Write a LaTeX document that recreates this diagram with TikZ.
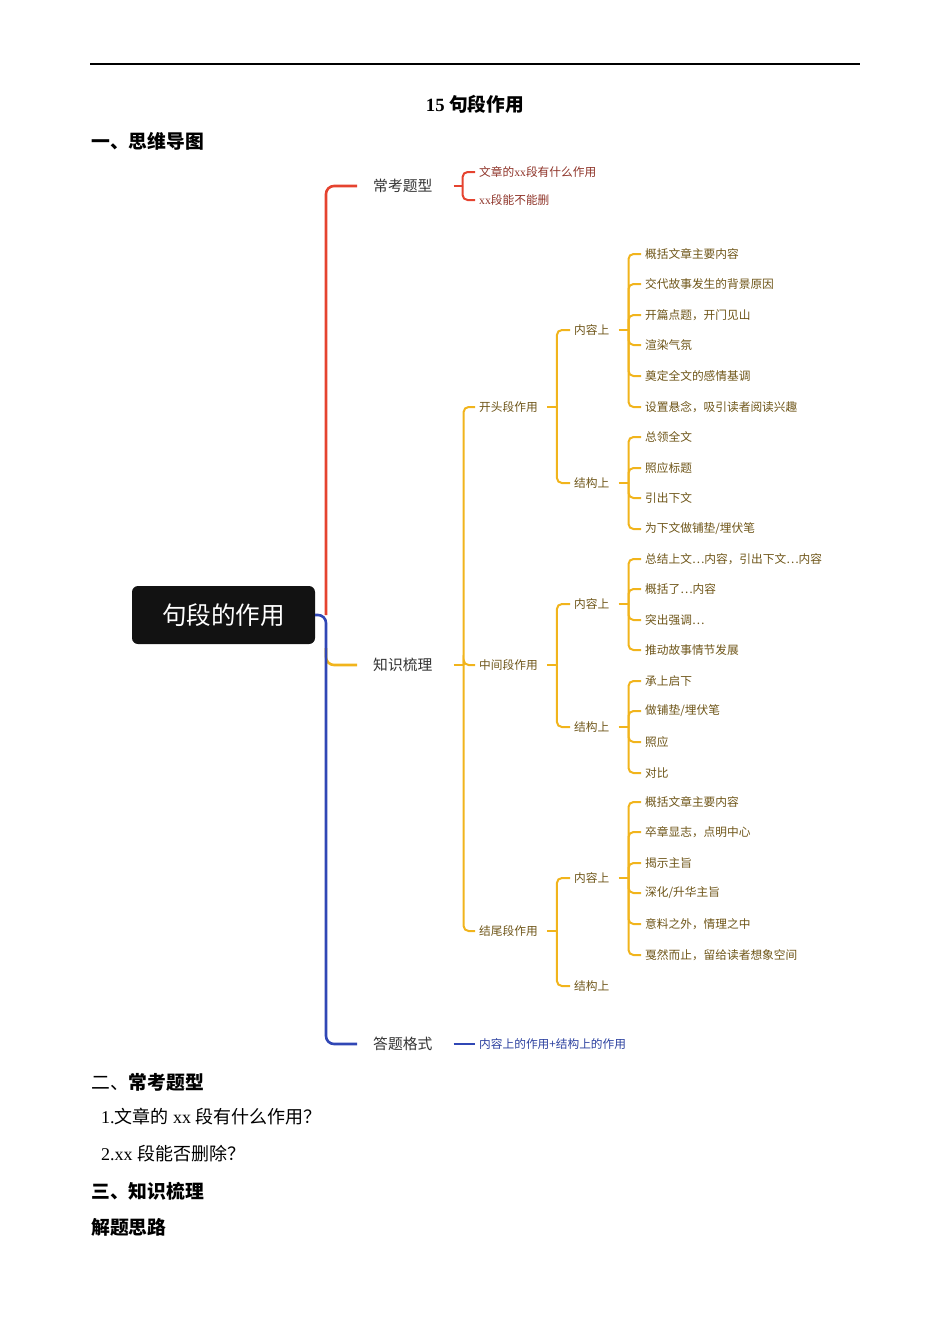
\documentclass[tikz,border=0pt]{standalone}
\usepackage{fontspec}
\setmainfont{Liberation Serif}
\newfontfamily\cjk{Noto Sans CJK SC}
\usepackage{xcolor}
\definecolor{mmred}{HTML}{E5432F}
\definecolor{mmyel}{HTML}{F1B41C}
\definecolor{mmblue}{HTML}{3047B5}
\definecolor{redtxt}{HTML}{8E3328}
\definecolor{yeltxt}{HTML}{6E5518}
\definecolor{bluetxt}{HTML}{2B409F}
\tikzstyle{root}=[rectangle, rounded corners=6pt, fill=black!93, text=white, minimum width=183pt, minimum height=58pt, font=\cjk\fontsize{24.6}{26}\selectfont]
\tikzstyle{topic}=[anchor=west, inner xsep=16pt, inner ysep=0pt, text=black!80, font=\cjk\fontsize{14.8}{16}\selectfont]
\tikzstyle{sub}=[anchor=west, inner xsep=4pt, inner ysep=0pt, font=\cjk\fontsize{11.7}{13}\selectfont]
\tikzstyle{head}=[anchor=west, inner sep=0pt, font=\cjk\bfseries\fontsize{18.8}{20}\selectfont]
\tikzstyle{body}=[anchor=west, inner sep=0pt, font=\fontsize{18}{20}\selectfont]
\tikzstyle{trunk}=[line width=2.6pt, rounded corners=8pt]
\tikzstyle{twig}=[line width=2pt, rounded corners=5pt]

\begin{document}
\begin{tikzpicture}[x=1pt, y=-1pt]
            \useasboundingbox (0,0) rectangle (950,1344);
            %\draw[step=50, gray, very thin] (0,0) grid (950,1344);
            \draw[line width=1.5pt] (90,64) -- (860,64);
            \node[font=\bfseries\fontsize{18.7}{20}\selectfont] (title) at (475,104) {15 {\cjk 句段作用}};
            \node[head] (h1) at (91,141) {一、思维导图};

            %%%%% root
            \node[root] (cen) at (223.5,615) {句段的作用};
            \coordinate (tr) at (326,615);
            \node[topic] (ckt) at (357,186) {常考题型};
            \node[topic] (zs) at (357,665) {知识梳理};
            \node[topic] (dt) at (357,1044) {答题格式};
            \draw[trunk, mmred] (tr) |- (ckt.west);
            \draw[trunk, mmyel] (tr |- 0,648) |- (zs.west);
            \draw[trunk, mmblue] (cen.east) -- (tr) |- (dt.west);

            %%%%% 常考题型
            \node[sub, text=redtxt] (c1) at (475,172) {文章的{\rmfamily xx}段有什么作用};
            \node[sub, text=redtxt] (c2) at (475,200) {{\rmfamily xx}段能不能删};
            \draw[twig, mmred] ([xshift=5]ckt.east) -- ++(9,0) coordinate (ckt-b);
            \draw[twig, mmred] (ckt-b) |- (c1.west);
            \draw[twig, mmred] (ckt-b) |- (c2.west);

            %%%%% 知识梳理
            \node[sub, text=yeltxt] (kt) at (475,407) {开头段作用};
            \node[sub, text=yeltxt] (zj) at (475,665) {中间段作用};
            \node[sub, text=yeltxt] (jw) at (475,931) {结尾段作用};
            \draw[twig, mmyel] ([xshift=5]zs.east) -- ++(10,0) coordinate (zs-b);
            \foreach \c in {kt,zj,jw} \draw[twig, mmyel] (zs-b) |- (\c.west);

            % 开头段
            \node[sub, text=yeltxt] (ktn) at (570,330) {内容上};
            \node[sub, text=yeltxt] (ktj) at (570,483) {结构上};
            \draw[twig, mmyel] ([xshift=5]kt.east) -- ++(10,0) coordinate (kt-b);
            \foreach \c in {ktn,ktj} \draw[twig, mmyel] (kt-b) |- (\c.west);
            \node[sub, text=yeltxt] (kn1) at (641,254) {概括文章主要内容};
            \node[sub, text=yeltxt] (kn2) at (641,284) {交代故事发生的背景原因};
            \node[sub, text=yeltxt] (kn3) at (641,315) {开篇点题，开门见山};
            \node[sub, text=yeltxt] (kn4) at (641,345) {渲染气氛};
            \node[sub, text=yeltxt] (kn5) at (641,376) {奠定全文的感情基调};
            \node[sub, text=yeltxt] (kn6) at (641,407) {设置悬念，吸引读者阅读兴趣};
            \draw[twig, mmyel] ([xshift=5]ktn.east) -- ++(10,0) coordinate (ktn-b);
            \foreach \c in {kn1,kn2,kn3,kn4,kn5,kn6} \draw[twig, mmyel] (ktn-b) |- (\c.west);
            \node[sub, text=yeltxt] (kj1) at (641,437) {总领全文};
            \node[sub, text=yeltxt] (kj2) at (641,468) {照应标题};
            \node[sub, text=yeltxt] (kj3) at (641,498) {引出下文};
            \node[sub, text=yeltxt] (kj4) at (641,529) {为下文做铺垫/埋伏笔};
            \draw[twig, mmyel] ([xshift=5]ktj.east) -- ++(10,0) coordinate (ktj-b);
            \foreach \c in {kj1,kj2,kj3,kj4} \draw[twig, mmyel] (ktj-b) |- (\c.west);

            % 中间段
            \node[sub, text=yeltxt] (zjn) at (570,604) {内容上};
            \node[sub, text=yeltxt] (zjj) at (570,727) {结构上};
            \draw[twig, mmyel] ([xshift=5]zj.east) -- ++(10,0) coordinate (zj-b);
            \foreach \c in {zjn,zjj} \draw[twig, mmyel] (zj-b) |- (\c.west);
            \node[sub, text=yeltxt] (zn1) at (641,559) {总结上文…内容，引出下文…内容};
            \node[sub, text=yeltxt] (zn2) at (641,589) {概括了…内容};
            \node[sub, text=yeltxt] (zn3) at (641,620) {突出强调…};
            \node[sub, text=yeltxt] (zn4) at (641,650) {推动故事情节发展};
            \draw[twig, mmyel] ([xshift=5]zjn.east) -- ++(10,0) coordinate (zjn-b);
            \foreach \c in {zn1,zn2,zn3,zn4} \draw[twig, mmyel] (zjn-b) |- (\c.west);
            \node[sub, text=yeltxt] (zg1) at (641,681) {承上启下};
            \node[sub, text=yeltxt] (zg2) at (641,711) {做铺垫/埋伏笔};
            \node[sub, text=yeltxt] (zg3) at (641,742) {照应};
            \node[sub, text=yeltxt] (zg4) at (641,773) {对比};
            \draw[twig, mmyel] ([xshift=5]zjj.east) -- ++(10,0) coordinate (zjj-b);
            \foreach \c in {zg1,zg2,zg3,zg4} \draw[twig, mmyel] (zjj-b) |- (\c.west);

            % 结尾段
            \node[sub, text=yeltxt] (jwn) at (570,878) {内容上};
            \node[sub, text=yeltxt] (jwj) at (570,986) {结构上};
            \draw[twig, mmyel] ([xshift=5]jw.east) -- ++(10,0) coordinate (jw-b);
            \foreach \c in {jwn,jwj} \draw[twig, mmyel] (jw-b) |- (\c.west);
            \node[sub, text=yeltxt] (jn1) at (641,802) {概括文章主要内容};
            \node[sub, text=yeltxt] (jn2) at (641,832) {卒章显志，点明中心};
            \node[sub, text=yeltxt] (jn3) at (641,863) {揭示主旨};
            \node[sub, text=yeltxt] (jn4) at (641,893) {深化/升华主旨};
            \node[sub, text=yeltxt] (jn5) at (641,924) {意料之外，情理之中};
            \node[sub, text=yeltxt] (jn6) at (641,955) {戛然而止，留给读者想象空间};
            \draw[twig, mmyel] ([xshift=5]jwn.east) -- ++(10,0) coordinate (jwn-b);
            \foreach \c in {jn1,jn2,jn3,jn4,jn5,jn6} \draw[twig, mmyel] (jwn-b) |- (\c.west);

            %%%%% 答题格式
            \node[sub, text=bluetxt] (df) at (475,1044) {内容上的作用+结构上的作用};
            \draw[twig, mmblue] ([xshift=5]dt.east) -- (df.west);

            %%%%% text below
            \node[head] (h2) at (91,1082) {{\mdseries 二、}常考题型};
            \node[body] (q1) at (101,1117) {1.{\cjk 文章的} xx {\cjk 段有什么作用？}};
            \node[body] (q2) at (101,1154) {2.xx {\cjk 段能否删除？}};
            \node[head] (h3) at (91,1191) {三、知识梳理};
            \node[head] (h4) at (91,1227) {解题思路};
        \end{tikzpicture}
\end{document}
